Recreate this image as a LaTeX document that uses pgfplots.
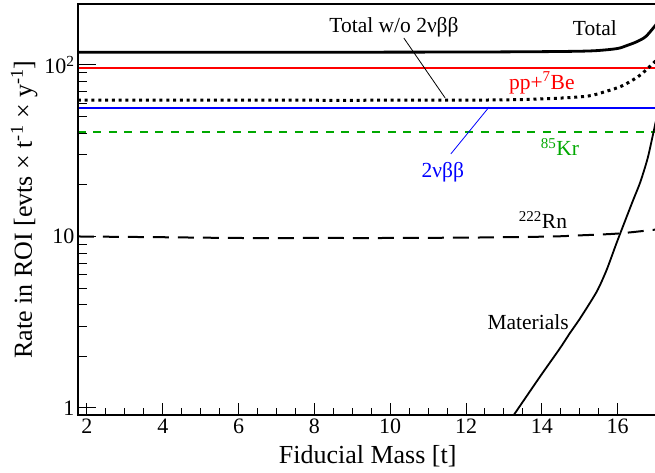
\documentclass[border=0pt]{standalone}
\usepackage{fontspec}
\setmainfont{Liberation Serif}
\usepackage{pgfplots}
\pgfplotsset{compat=1.18}
\pgfkeys{/pgf/number format/assume math mode=true}

\definecolor{krgreen}{rgb}{0.0,0.66,0.0}
\tikzset{lbl/.style={font=\fontsize{21.5}{25}\selectfont}}

\begin{document}
\begin{tikzpicture}

% x ticks and data
\begin{axis}[
  scale only axis, width=579.4pt, height=411pt,
  xmin=1.763, xmax=17.05,
  ymode=log, ymin=0.910, ymax=226.8,
  tick align=inside,
  axis line style={line width=1.3pt},
  tick style={black, line width=1pt},
  tick label style={font=\fontsize{22}{25}\selectfont},
  label style={font=\fontsize{26}{30}\selectfont},
  xtick={2,4,...,16}, minor x tick num=3, xtick pos=bottom,
  major tick length=12pt, minor tick length=7pt,
  ytick=\empty, yminorticks=false,
  xlabel={Fiducial Mass [t]},
  xlabel style={yshift=-5pt},
]

% Total
\addplot[black, line width=2.8pt, smooth, tension=0.5] coordinates {
  (1.76,118.6) (4,118.6) (8,118.7) (12,119) (14,119.6) (15,120.3)
  (15.5,121.5) (16,124.8) (16.25,130) (16.5,136.5) (16.75,147) (17.05,176)
};

% pp+7Be
\addplot[red, line width=1.8pt] coordinates {(1.76,95.7) (17.05,95.7)};

% Total w/o 2nbb
\addplot[black, line width=3pt, dash pattern=on 3pt off 3.8pt, smooth, tension=0.5] coordinates {
  (1.76,62.3) (6,62.3) (10,62.3) (13,62.6) (14.35,63.9) (15.22,65.9)
  (15.67,69.9) (16.11,75.4) (16.54,85.5) (16.8,95.7) (17.05,108)
};

% 2nbb
\addplot[blue, line width=1.9pt] coordinates {(1.76,56.4) (17.05,56.4)};

% 85Kr
\addplot[krgreen, line width=1.8pt, dash pattern=on 8pt off 7.5pt] coordinates {(1.76,40.5) (17.05,40.5)};

% 222Rn
\addplot[black, line width=2pt, dash pattern=on 16pt off 9pt, smooth] coordinates {
  (1.76,10.0) (4,9.9) (6,9.8) (8,9.8) (10,9.8) (12,9.85) (13,9.9)
  (14.3,10.0) (15,10.15) (16,10.4) (17.05,11.0)
};

% Materials
\addplot[black, line width=1.8pt, smooth, tension=0.4] coordinates {
  (13.25,0.90) (13.29,0.93) (13.95,1.52) (14.48,2.23) (14.74,2.73)
  (15.01,3.33) (15.45,4.77) (15.71,6.38) (15.97,9.13) (16.24,13.05)
  (16.41,16.3) (16.6,20.8) (16.8,29) (17.0,46) (17.05,51)
};

% labels
\node[lbl] at (axis cs:10.10,166.5) {Total w/o 2νββ};
\draw[black, line width=0.8pt] (axis cs:10.36,143.6) -- (axis cs:11.45,64.2);
\node[lbl] at (axis cs:15.40,164.3) {Total};
\node[lbl, red] at (axis cs:14.0,78.5) {pp+\textsuperscript{7}Be};
\node[lbl, blue] at (axis cs:11.39,23.8) {2νββ};
\draw[blue, line width=0.8pt] (axis cs:11.60,30.3) -- (axis cs:12.61,56.9);
\node[lbl, krgreen] at (axis cs:14.48,33.3) {\textsuperscript{85}Kr};
\node[lbl] at (axis cs:14.03,12.48) {\textsuperscript{222}Rn};
\node[lbl] at (axis cs:13.64,3.17) {Materials};
\end{axis}

% y ticks
\begin{axis}[
  scale only axis, width=579.4pt, height=411pt,
  xmin=1.763, xmax=17.05,
  ymode=log, ymin=0.910, ymax=226.8,
  tick align=inside,
  axis line style={line width=1.3pt},
  tick style={black, line width=1pt},
  tick label style={font=\fontsize{22}{25}\selectfont},
  label style={font=\fontsize{26}{30}\selectfont},
  xtick=\empty, xminorticks=false,
  ytick={1,10,100}, yticklabels={1,10,10\textsuperscript{2}}, ytick pos=left,
  major tick length=18pt, minor tick length=9pt,
  ylabel={Rate in ROI [evts × t\textsuperscript{-1} × y\textsuperscript{-1}]},
]
\end{axis}

\pgfresetboundingbox
\path (-78pt,-58pt) rectangle (577pt,415pt);
\end{tikzpicture}
\end{document}
